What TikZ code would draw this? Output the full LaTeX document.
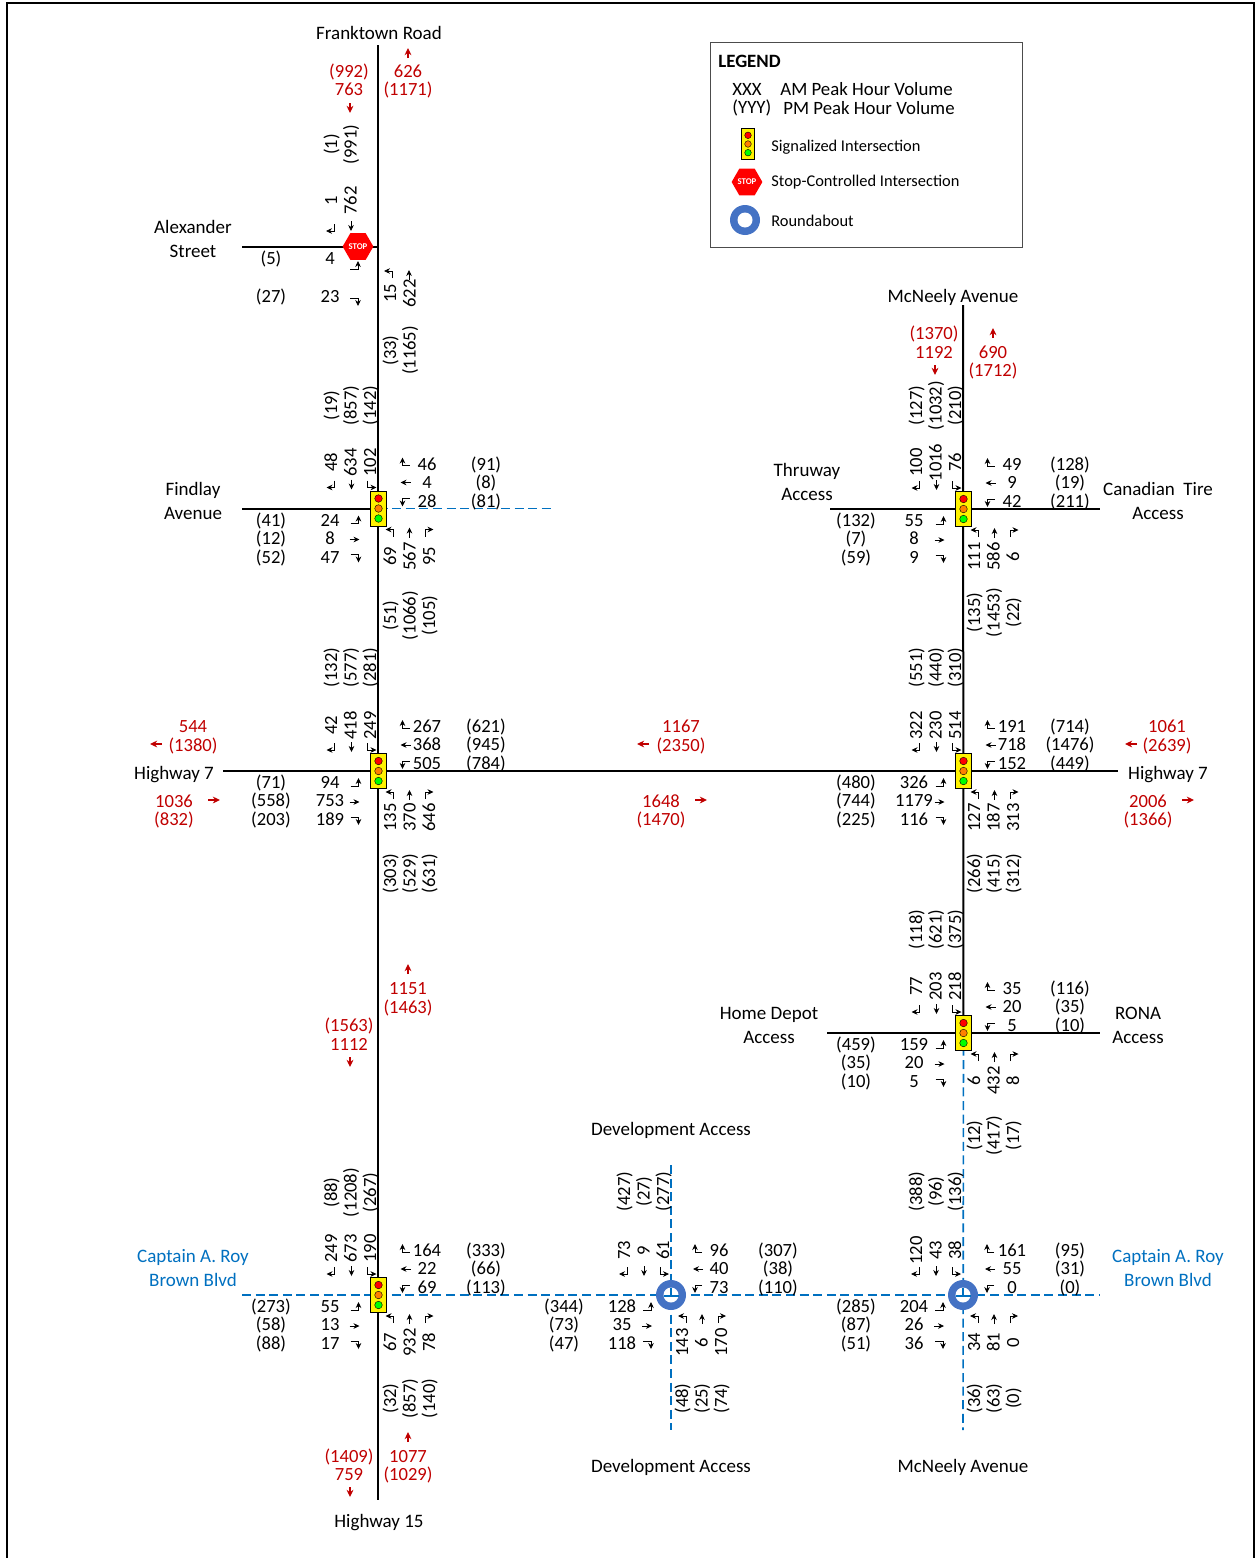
\documentclass[tikz,border=0pt]{standalone}
\usepackage{fontspec}
\setmainfont{Carlito}
\usetikzlibrary{arrows.meta,shapes.geometric}
\definecolor{volred}{HTML}{C00000}
\definecolor{roadblue}{HTML}{0070C0}
\definecolor{rbblue}{HTML}{4472C4}
\tikzset{
    vol/.style={inner sep=0pt,text height=7pt,text depth=2pt,yshift=-0.5pt,font=\fontsize{9.3}{10}\selectfont},
    volt/.style={inner sep=0pt,text height=7pt,text depth=2pt,xshift=0.5pt,yshift=-0.25pt,rotate=90,font=\fontsize{9.3}{10}\selectfont},
    volr/.style={vol,text=volred},
    lbl/.style={inner sep=0pt,align=center,font=\fontsize{9.5}{12}\selectfont},
    lblb/.style={lbl,text=roadblue},
    leg/.style={inner sep=0pt,anchor=west,font=\fontsize{9.4}{10}\selectfont},
    legs/.style={inner sep=0pt,anchor=west,font=\fontsize{8.2}{10}\selectfont},
    road/.style={line width=1pt},
    access/.style={line width=0.8pt,roadblue,dash pattern=on 4.5pt off 2.3pt},
    flow/.style={line width=0.4pt,-{Stealth[length=3pt,width=2.8pt]}},
    flowr/.style={line width=0.6pt,volred,-{Stealth[length=3.6pt,width=3.4pt]}},
    stopsign/.style={regular polygon,regular polygon sides=6,fill=red,text=white,inner sep=0pt,minimum size=14pt,font=\fontsize{4.4}{5}\selectfont\bfseries},
    pics/sbr/.style={code={\draw[flow] (3,-4) -- (3,3) -- (-5,3);}},
    pics/sbt/.style={code={\draw[flow] (0,-5) -- (0,5);}},
    pics/sbl/.style={code={\draw[flow] (-4,-4) -- (-4,3) -- (5,3);}},
    pics/ebl/.style={code={\draw[flow] (-4,3) -- (4,3) -- (4,-5);}},
    pics/ebt/.style={code={\draw[flow] (-5,0) -- (5,0);}},
    pics/ebr/.style={code={\draw[flow] (-4,-3) -- (4,-3) -- (4,5);}},
    pics/nbl/.style={code={\draw[flow] (3,4) -- (3,-3) -- (-5,-3);}},
    pics/nbt/.style={code={\draw[flow] (0,5) -- (0,-5);}},
    pics/nbr/.style={code={\draw[flow] (-3,4) -- (-3,-3) -- (5,-3);}},
    pics/wbr/.style={code={\draw[flow] (4,3) -- (-3,3) -- (-3,-5);}},
    pics/wbt/.style={code={\draw[flow] (5,0) -- (-5,0);}},
    pics/wbl/.style={code={\draw[flow] (4,-3) -- (-3,-3) -- (-3,5);}},
    pics/turnset/.style={code={
        \pic at (-47,-24) {sbr}; \pic at (-27,-24) {sbt}; \pic at (-7,-24) {sbl};
        \pic at (27,-46) {wbr}; \pic at (27,-26) {wbt}; \pic at (27,-7) {wbl};
        \pic at (-24,12) {ebl}; \pic at (-24,31) {ebt}; \pic at (-24,49) {ebr};
        \pic at (12,24) {nbl}; \pic at (31,24) {nbt}; \pic at (50,24) {nbr};
    }},
    pics/signal/.style={code={
        \draw[fill=yellow,line width=0.5pt] (-8,-17.5) rectangle (8,17.5);
        \draw[fill=red,line width=0.2pt] (0,-10) circle (3.8);
        \draw[fill=orange,line width=0.2pt] (0,0) circle (3.8);
        \draw[fill=green,line width=0.2pt] (0,10) circle (3.8);
    }},
    pics/rabout/.style={code={
        \fill[rbblue] (0,0) circle (15);
        \fill[white] (0,0) circle (7.5);
    }},
    pics/rbcross/.style={code={
        \draw[roadblue,line width=0.6pt] (0,-7.5) -- (0,1) (-7.5,1) -- (7.5,1);
    }},
}
% stack of level numbers: x, first y, list
\newcommand{\rownums}[3]{
    \foreach \t [count=\i] in {#3}
        \node[vol] (r-#1-#2-\i) at (#1,{#2+18.6*(\i-1)}) {\t};
}
% row of turned numbers: first x, y, list
\newcommand{\colnums}[3]{
    \foreach \t [count=\i] in {#3}
        \node[volt] (c-#1-#2-\i) at ({#1+19.6*(\i-1)},#2) {\t};
}

\begin{document}
\begin{tikzpicture}[x=0.5pt,y=-0.5pt]
    \useasboundingbox (0,0) rectangle (1257,1558);
    \draw[line width=0.7pt] (7,1558) -- (7,3) -- (1254,3) -- (1254,1558);

    % junctions and road ends
    \coordinate (jalex) at (378,246.5);
    \coordinate (jfind) at (378.5,508.5);
    \coordinate (jhwy) at (378.5,771);
    \coordinate (jbrown) at (378.5,1295);
    \coordinate (jdev) at (671,1295);
    \coordinate (jmcn) at (963,1295);
    \coordinate (jrona) at (963.5,1033);
    \coordinate (jhwyr) at (963.5,771);
    \coordinate (jthru) at (963.5,509);
    \coordinate (frankend) at (378,45);
    \coordinate (hw15end) at (378,1500);
    \coordinate (alexend) at (242,246.5);
    \coordinate (findend) at (242,508.5);
    \coordinate (findeast) at (555,508.5);
    \coordinate (hwyw) at (223,771);
    \coordinate (hwye) at (1118,771);
    \coordinate (brownw) at (242,1295);
    \coordinate (browne) at (1100,1295);
    \coordinate (devn) at (671,1165);
    \coordinate (devs) at (671,1430);
    \coordinate (mcnn) at (963,305);
    \coordinate (mcns) at (963,1430);
    \coordinate (thruw) at (830,509);
    \coordinate (thrue) at (1100,509);
    \coordinate (ronaw) at (827,1033);
    \coordinate (ronae) at (1100,1033);

    \draw[road] (frankend) -- (hw15end);
    \draw[road] (alexend) -- (jalex);
    \draw[road] (findend) -- (jfind);
    \draw[access] (jfind) -- (findeast);
    \draw[road] (hwyw) -- (hwye);
    \draw[access] (brownw) -- (browne);
    \draw[access] (devn) -- (devs);
    \draw[road] (mcnn) -- (jrona);
    \draw[access] (jrona) -- (mcns);
    \draw[road] (thruw) -- (thrue);
    \draw[road] (ronaw) -- (ronae);

    \pic at (jfind) {signal};
    \pic at (jhwy) {signal};
    \pic at (jbrown) {signal};
    \pic at (jhwyr) {signal};
    \pic at (jrona) {signal};
    \pic at (jthru) {signal};
    \pic at (jdev) {rabout};
    \pic at (jmcn) {rabout};
    \pic at (jdev) {rbcross};
    \pic at (jmcn) {rbcross};
    \node[stopsign] (stopalex) at (358,246.5) {STOP};

    \pic at (jfind) {turnset};
    \pic at (jhwy) {turnset};
    \pic at (jbrown) {turnset};
    \pic at (jdev) {turnset};
    \pic at (jmcn) {turnset};
    \pic at (jrona) {turnset};
    \pic at (jhwyr) {turnset};
    \pic at (jthru) {turnset};
    \pic at (331,228) {sbr};
    \pic at (351,226) {sbt};
    \pic at (354,266) {ebl};
    \pic at (354,301) {ebr};
    \pic at (389,274) {nbl};
    \pic at (409,275) {nbt};

    % Alexander Street
    \colnums{331}{144}{(1),(991)}
    \colnums{331}{200}{1,762}
    \colnums{390}{293}{15,622}
    \colnums{390}{350}{(33),(1165)}
    \node[vol] (am4) at (330,258) {4};
    \node[vol] (pm5) at (271,258) {(5)};
    \node[vol] (am23) at (330,296) {23};
    \node[vol] (pm27) at (271,296) {(27)};

    % Findlay Avenue
    \colnums{331}{405}{(19),(857),(142)}
    \colnums{331}{462}{48,634,102}
    \rownums{427}{464}{46,4,28}
    \rownums{486}{464}{(91),(8),(81)}
    \rownums{271}{520}{(41),(12),(52)}
    \rownums{330}{520}{24,8,47}
    \colnums{390}{556}{69,567,95}
    \colnums{390}{615}{(51),(1066),(105)}

    % Highway 7 at Highway 15
    \colnums{331}{667}{(132),(577),(281)}
    \colnums{331}{725}{42,418,249}
    \rownums{427}{726}{267,368,505}
    \rownums{486}{726}{(621),(945),(784)}
    \rownums{271}{782}{(71),(558),(203)}
    \rownums{330}{782}{94,753,189}
    \colnums{390}{817}{135,370,646}
    \colnums{390}{873}{(303),(529),(631)}

    % Captain A. Roy Brown Blvd at Highway 15
    \colnums{331}{1192}{(88),(1208),(267)}
    \colnums{331}{1248}{249,673,190}
    \rownums{427}{1250}{164,22,69}
    \rownums{486}{1250}{(333),(66),(113)}
    \rownums{271}{1306}{(273),(58),(88)}
    \rownums{330}{1306}{55,13,17}
    \colnums{390}{1342}{67,932,78}
    \colnums{390}{1398}{(32),(857),(140)}

    % Development Access
    \colnums{624}{1191}{(427),(27),(277)}
    \colnums{624}{1250}{73,9,61}
    \rownums{719}{1250}{96,40,73}
    \rownums{778}{1250}{(307),(38),(110)}
    \rownums{564}{1306}{(344),(73),(47)}
    \rownums{622}{1306}{128,35,118}
    \colnums{682}{1342}{143,6,170}
    \colnums{682}{1398}{(48),(25),(74)}

    % McNeely at Captain A. Roy Brown Blvd
    \colnums{916}{1191}{(388),(96),(136)}
    \colnums{916}{1250}{120,43,38}
    \rownums{1012}{1250}{161,55,0}
    \rownums{1070}{1250}{(95),(31),(0)}
    \rownums{856}{1306}{(285),(87),(51)}
    \rownums{914}{1306}{204,26,36}
    \colnums{974}{1342}{34,81,0}
    \colnums{974}{1398}{(36),(63),(0)}

    % Home Depot / RONA
    \colnums{916}{929}{(118),(621),(375)}
    \colnums{916}{986}{77,203,218}
    \rownums{1012}{988}{35,20,5}
    \rownums{1070}{988}{(116),(35),(10)}
    \rownums{856}{1044}{(459),(35),(10)}
    \rownums{914}{1044}{159,20,5}
    \colnums{974}{1080}{6,432,8}
    \colnums{974}{1135}{(12),(417),(17)}

    % McNeely at Highway 7
    \colnums{916}{667}{(551),(440),(310)}
    \colnums{916}{725}{322,230,514}
    \rownums{1012}{726}{191,718,152}
    \rownums{1070}{726}{(714),(1476),(449)}
    \rownums{856}{782}{(480),(744),(225)}
    \rownums{914}{782}{326,1179,116}
    \colnums{974}{817}{127,187,313}
    \colnums{974}{873}{(266),(415),(312)}

    % Thruway / Canadian Tire
    \colnums{916}{405}{(127),(1032),(210)}
    \colnums{916}{462}{100,1016,76}
    \rownums{1012}{464}{49,9,42}
    \rownums{1070}{464}{(128),(19),(211)}
    \rownums{856}{520}{(132),(7),(59)}
    \rownums{914}{520}{55,8,9}
    \colnums{974}{556}{111,586,6}
    \colnums{974}{612}{(135),(1453),(22)}

    % road names
    \node[lbl] (franktown) at (379,33) {Franktown Road};
    \node[lbl] (alexander) at (193,239) {Alexander\\Street};
    \node[lbl] (findlay) at (193,501) {Findlay\\Avenue};
    \node[lbl] (hwyone) at (174,775) {Highway 7};
    \node[lbl] (hwytwo) at (1168,775) {Highway 7};
    \node[lblb] (capwest) at (193,1268) {Captain A. Roy\\Brown Blvd};
    \node[lblb] (capeast) at (1168,1268) {Captain A. Roy\\Brown Blvd};
    \node[lbl] (hwyfifteen) at (379,1523) {Highway 15};
    \node[lbl] (devnorth) at (671,1130) {Development Access};
    \node[lbl] (devsouth) at (671,1467) {Development Access};
    \node[lbl] (mcnsouth) at (963,1467) {McNeely Avenue};
    \node[lbl] (mcnnorth) at (953,297) {McNeely Avenue};
    \node[lbl] (thruway) at (807,482) {Thruway\\Access};
    \node[lbl] (cantire) at (1158,501) {Canadian\ \ Tire\\Access};
    \node[lbl] (homedepot) at (769,1025) {Home Depot\\Access};
    \node[lbl] (rona) at (1138,1025) {RONA\\Access};

    % link volumes
    \node[volr] (l992) at (349,71) {(992)};
    \node[volr] (l763) at (349,89) {763};
    \node[volr] (l626) at (408,71) {626};
    \node[volr] (l1171) at (408,89) {(1171)};
    \node[volr] (l544) at (193,726) {544};
    \node[volr] (l1380) at (193,745) {(1380)};
    \node[volr] (l1036) at (174,801) {1036};
    \node[volr] (l832) at (174,819) {(832)};
    \node[volr] (l1167) at (681,726) {1167};
    \node[volr] (l2350) at (681,745) {(2350)};
    \node[volr] (l1648) at (661,801) {1648};
    \node[volr] (l1470) at (661,819) {(1470)};
    \node[volr] (l1061) at (1167,726) {1061};
    \node[volr] (l2639) at (1167,745) {(2639)};
    \node[volr] (l2006) at (1148,801) {2006};
    \node[volr] (l1366) at (1148,819) {(1366)};
    \node[volr] (l1151) at (408,988) {1151};
    \node[volr] (l1463) at (408,1007) {(1463)};
    \node[volr] (l1563) at (349,1025) {(1563)};
    \node[volr] (l1112) at (349,1044) {1112};
    \node[volr] (l1077) at (408,1456) {1077};
    \node[volr] (l1029) at (408,1474) {(1029)};
    \node[volr] (l1409) at (349,1456) {(1409)};
    \node[volr] (l759) at (349,1474) {759};
    \node[volr] (l1370) at (934,333) {(1370)};
    \node[volr] (l1192) at (934,352) {1192};
    \node[volr] (l690) at (993,352) {690};
    \node[volr] (l1712) at (993,370) {(1712)};
    \foreach \x/\y in {350/108,350/1062,350/1492,935/370}
        \draw[flowr] (\x,\y-5) -- (\x,\y+5);
    \foreach \x/\y in {408/53,408/969,408/1437,993/333}
        \draw[flowr] (\x,\y+5) -- (\x,\y-5);
    \foreach \x/\y in {156/744,643/744,1131/744}
        \draw[flowr] (\x+6,\y) -- (\x-6,\y);
    \foreach \x/\y in {214/800,701/800,1188/800}
        \draw[flowr] (\x-6,\y) -- (\x+6,\y);

    % legend
    \draw[line width=0.5pt,draw=black!70] (710,42) rectangle (1022,247);
    \node[leg,font=\fontsize{9.4}{10}\selectfont\bfseries] (legtitle) at (718,61) {LEGEND};
    \node[leg] (legxxx) at (732,89) {XXX};
    \node[leg] (legam) at (780,89) {AM Peak Hour Volume};
    \node[leg] (legyyy) at (732,108) {(YYY)};
    \node[leg] (legpm) at (783,108) {PM Peak Hour Volume};
    \pic[scale=0.87] at (748,144) {signal};
    \node[stopsign] (legstop) at (747,182) {STOP};
    \pic at (745,220) {rabout};
    \node[legs] (legsig) at (771,147) {Signalized Intersection};
    \node[legs] (legstoptext) at (771,182) {Stop-Controlled Intersection};
    \node[legs] (legrb) at (771,221) {Roundabout};
\end{tikzpicture}
\end{document}
